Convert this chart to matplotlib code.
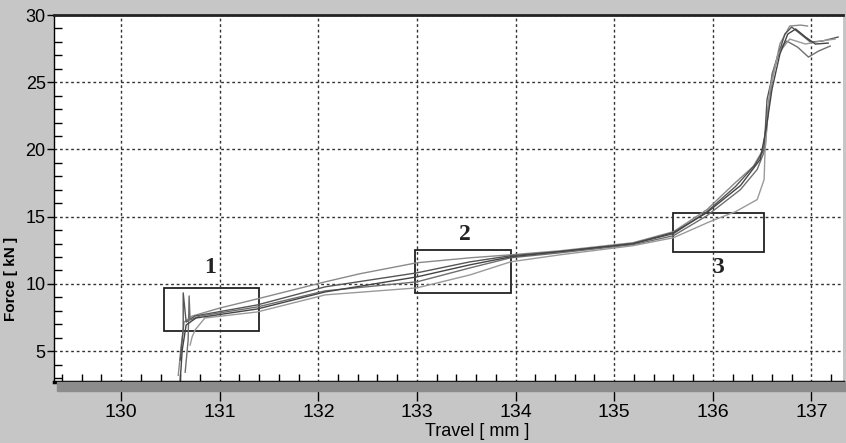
import matplotlib
matplotlib.use("Agg")
import matplotlib.pyplot as plt
from matplotlib.patches import Rectangle
from matplotlib.ticker import MultipleLocator

# travel [mm] / force [kN] for the five test runs
run1_x = [130.58, 130.61, 130.64, 130.72, 131.00, 131.38, 132.07, 132.42, 133.00, 133.54, 133.95,
          134.45, 135.19, 135.60, 135.94, 136.23, 136.41, 136.51, 136.56, 136.60, 136.68, 136.78,
          136.89, 136.96]
run1_y = [3.2, 5.45, 7.16, 7.6, 8.2, 8.88, 10.15, 10.75, 11.57, 11.94, 12.16,
          12.46, 13.06, 13.88, 15.52, 17.54, 18.73, 20.0, 22.99, 25.07, 27.84, 29.18,
          29.25, 29.18]

run2_x = [130.60, 130.63, 130.63, 130.66, 130.75, 131.38, 132.07, 133.00, 133.54, 133.95, 134.45,
          135.19, 135.60, 135.94, 136.23, 136.43, 136.52, 136.55, 136.62, 136.73, 136.80, 136.89,
          136.99, 137.11, 137.27]
run2_y = [4.33, 6.57, 9.33, 7.16, 7.61, 8.43, 9.78, 10.82, 11.64, 12.09, 12.39,
          12.99, 13.73, 15.37, 17.24, 18.88, 20.0, 23.73, 25.97, 28.58, 29.1, 28.58,
          27.99, 28.06, 28.36]

run3_x = [130.65, 130.68, 130.69, 130.70, 130.80, 131.38, 132.07, 133.00, 133.54, 133.95, 134.45,
          135.19, 135.60, 135.94, 136.28, 136.45, 136.53, 136.56, 136.60, 136.68, 136.75, 136.86,
          136.97, 137.07, 137.19]
run3_y = [3.43, 5.82, 9.1, 7.31, 7.61, 8.28, 9.48, 10.15, 11.19, 11.94, 12.31,
          12.91, 13.58, 15.07, 17.01, 18.51, 20.0, 22.99, 25.6, 27.46, 28.06, 27.61,
          26.87, 27.31, 27.69]

run4_x = [130.70, 130.72, 130.75, 130.85, 131.38, 132.07, 133.00, 133.54, 133.95, 134.45, 135.19,
          135.60, 135.97, 136.23, 136.45, 136.52, 136.53, 136.58, 136.66, 136.78, 136.94, 137.09,
          137.24]
run4_y = [5.45, 6.04, 6.57, 7.46, 7.91, 9.18, 9.7, 10.67, 11.64, 12.16, 12.84,
          13.43, 14.63, 15.37, 16.27, 17.76, 20.0, 24.48, 27.09, 28.21, 27.84, 28.06,
          28.21]

run5_x = [130.60, 130.62, 130.66, 130.76, 131.38, 132.07, 133.00, 133.54, 133.95, 135.19, 135.60,
          135.94, 136.28, 136.48, 136.54, 136.60, 136.68, 136.76, 136.84, 136.94, 137.04, 137.17]
run5_y = [2.84, 5.07, 6.94, 7.46, 8.13, 9.4, 10.52, 11.42, 12.01, 12.99, 13.81,
          15.3, 17.31, 19.25, 21.49, 24.48, 27.09, 28.58, 28.96, 28.36, 27.84, 27.91]

# marked zones: (x0, y0, x1, y1) and label position
zones = {
    "1": ((130.44, 6.5, 131.40, 9.7), (130.90, 11.2)),
    "2": ((132.98, 9.33, 133.95, 12.54), (133.49, 13.7)),
    "3": ((135.60, 12.39, 136.52, 15.3), (136.05, 11.2)),
}

sans = ["Liberation Sans", "DejaVu Sans"]

fig = plt.figure(figsize=(8.46, 4.43), dpi=100, facecolor="#c6c6c6")
ax = fig.add_axes([54 / 846, 61 / 443, 789 / 846, 367 / 443])
ax.set_facecolor("white")

# shaded strip under the x axis
fig.patches.append(Rectangle((57 / 846, 52 / 443), 1 - 57 / 846, 9 / 443,
                             transform=fig.transFigure, color="#8c8c8c", zorder=0))

colors = ["#8a8a8a", "#555555", "#6e6e6e", "#9a9a9a", "#444444"]
runs = [(run1_x, run1_y), (run2_x, run2_y), (run3_x, run3_y), (run4_x, run4_y), (run5_x, run5_y)]
for (xs, ys), c in zip(runs, colors):
    ax.plot(xs, ys, color=c, lw=1.0)

for name, ((x0, y0, x1, y1), (tx, ty)) in zones.items():
    ax.add_patch(Rectangle((x0, y0), x1 - x0, y1 - y0, fill=False, ec="#222222", lw=1.3))
    ax.text(tx, ty, name, ha="center", va="center", fontsize=17, fontweight="bold",
            family=["Liberation Serif", "DejaVu Serif"], color="#222222")

ax.set_xlim(129.32, 137.32)
ax.set_ylim(2.7, 30)

ax.xaxis.set_major_locator(MultipleLocator(1))
ax.xaxis.set_minor_locator(MultipleLocator(0.2))
ax.yaxis.set_major_locator(MultipleLocator(5))
ax.yaxis.set_minor_locator(MultipleLocator(1))

ax.grid(True, which="major", color="#333333", lw=1.0, linestyle=(0, (2, 2)))

ax.tick_params(axis="x", which="major", direction="out", length=14, width=1, pad=2)
ax.tick_params(axis="x", which="minor", direction="in", length=6, width=1)
ax.tick_params(axis="y", which="major", direction="out", length=5, width=1, pad=1)
ax.tick_params(axis="y", which="minor", direction="in", length=6, width=1)

for lab in ax.get_xticklabels():
    lab.set_family(sans)
    lab.set_fontsize(14)
for lab in ax.get_yticklabels():
    lab.set_family(sans)
    lab.set_fontsize(13)

ax.spines["bottom"].set_linewidth(2.5)
ax.spines["top"].set_linewidth(2.0)
ax.spines["top"].set_color("#222222")
ax.spines["left"].set_linewidth(1.0)
ax.spines["right"].set_visible(False)

ax.set_xlabel("Travel [ mm ]", family=sans, fontsize=13)
ax.xaxis.set_label_coords(0.536, -0.112)
ax.set_ylabel("Force [ kN ]", family=sans, fontsize=11, fontweight="bold")
ax.yaxis.set_label_coords(-0.045, 0.28)

fig.savefig("out.png", dpi=100, facecolor=fig.get_facecolor())
